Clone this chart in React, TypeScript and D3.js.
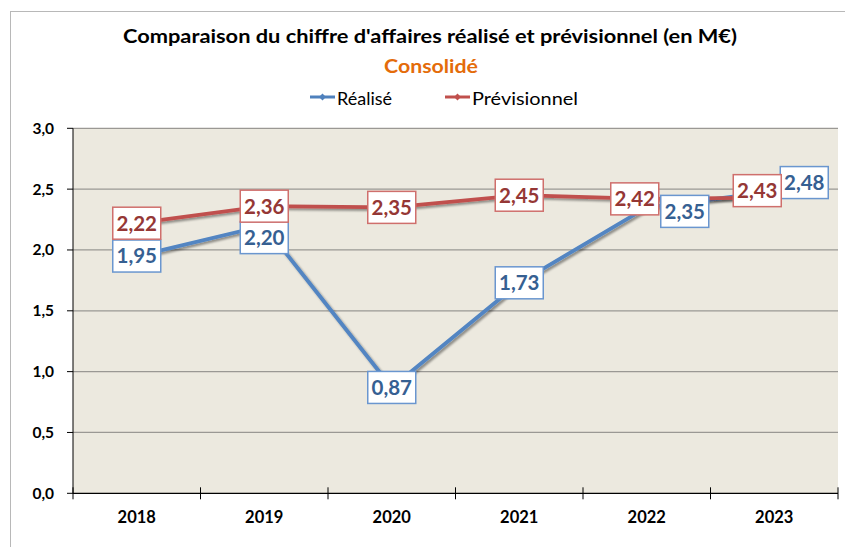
import * as d3 from 'd3';
import React, { useRef, useEffect } from 'react';

const years = ['2018', '2019', '2020', '2021', '2022', '2023'];
const realise = [1.95, 2.2, 0.87, 1.73, 2.35, 2.48];
const previsionnel = [2.22, 2.36, 2.35, 2.45, 2.42, 2.43];
const yTicks = [0, 0.5, 1, 1.5, 2, 2.5, 3];

// labels moved by hand in the original to avoid overlaps
const realiseShift = [[0, 0], [0, 12], [0, 0], [0, 0], [38, 4], [30, -9]];
const previsionnelShift = [[0, 0], [0, 0], [0, 0], [0, 0], [-12, 0], [-17, -7]];

const W = 845, H = 547;
const FONT = 'Lato, "Open Sans", sans-serif';

function App() {
    const ref = useRef(null);

    useEffect(() => {
        draw();
    }, []);

    const draw = () => {
        const svg = d3.select(ref.current);
        svg.selectAll('*').remove();

        const fr = d3.formatLocale({ decimal: ',', thousands: ' ', grouping: [3], currency: ['', '€'] });
        const f1 = fr.format('.1f'), f2 = fr.format('.2f');

        const margin = { top: 128.3, right: 7, bottom: 53.7, left: 73 };
        const x = d3.scaleBand().domain(years).range([margin.left, W - margin.right]).padding(0);
        const y = d3.scaleLinear().domain([0, 3]).range([H - margin.bottom, margin.top]);
        const cx = (d) => x(d) + x.bandwidth() / 2;

        const defs = svg.append('defs');
        const flt = defs.append('filter').attr('id', 'shd').attr('x', '-10%').attr('y', '-10%').attr('width', '130%').attr('height', '130%');
        flt.append('feDropShadow').attr('dx', 2).attr('dy', 2).attr('stdDeviation', 1.3)
            .attr('flood-color', '#000').attr('flood-opacity', 0.4);

        svg.append('rect').attr('width', W).attr('height', H).attr('fill', '#fff');
        // outer frame
        svg.append('rect').attr('x', 10.5).attr('y', 11.5).attr('width', W).attr('height', H)
            .attr('fill', 'none').attr('stroke', '#b8b8b8').attr('stroke-width', 1);

        // titles
        svg.append('text').attr('x', 123).attr('y', 43)
            .attr('textLength', 614).attr('lengthAdjust', 'spacingAndGlyphs')
            .style('font-family', FONT).style('font-weight', 700).style('font-size', '19.5px').attr('fill', '#000')
            .text("Comparaison du chiffre d'affaires réalisé et prévisionnel (en M€)");
        svg.append('text').attr('x', 384).attr('y', 73)
            .attr('textLength', 94).attr('lengthAdjust', 'spacingAndGlyphs')
            .style('font-family', FONT).style('font-weight', 700).style('font-size', '18.5px').attr('fill', '#E46C0A')
            .text('Consolidé');

        // legend
        const legend = [
            { name: 'Réalisé', color: '#4F81BD', x: 310, w: 55 },
            { name: 'Prévisionnel', color: '#C0504D', x: 445, w: 106 },
        ];
        legend.forEach((l) => {
            svg.append('line').attr('x1', l.x).attr('x2', l.x + 25).attr('y1', 97).attr('y2', 97)
                .attr('stroke', l.color).attr('stroke-width', 3);
            svg.append('path').attr('d', d3.symbol(d3.symbolDiamond2, 30)()).attr('transform', `translate(${l.x + 12.5},97)`)
                .attr('fill', l.color);
            svg.append('text').attr('x', l.x + 27).attr('y', 105)
                .attr('textLength', l.w).attr('lengthAdjust', 'spacingAndGlyphs')
                .style('font-family', FONT).style('font-size', '17px').attr('fill', '#000').text(l.name);
        });

        // plot area
        svg.append('rect').attr('x', margin.left).attr('y', margin.top)
            .attr('width', W - margin.right - margin.left).attr('height', y(0) - margin.top).attr('fill', '#ECE9DF');

        const g = svg.append('g');
        g.selectAll('.grid').data(yTicks.filter((t) => t > 0)).enter().append('line')
            .attr('x1', margin.left).attr('x2', W - margin.right)
            .attr('y1', (d) => y(d)).attr('y2', (d) => y(d))
            .attr('stroke', '#9a9894').attr('stroke-width', 1.3);

        // y axis
        g.append('line').attr('x1', margin.left).attr('x2', margin.left).attr('y1', y(3)).attr('y2', y(0))
            .attr('stroke', '#000').attr('stroke-width', 1);
        g.selectAll('.ytick').data(yTicks).enter().append('line')
            .attr('x1', margin.left - 6).attr('x2', margin.left).attr('y1', (d) => y(d)).attr('y2', (d) => y(d))
            .attr('stroke', '#000');
        g.selectAll('.ylab').data(yTicks).enter().append('text')
            .attr('x', 54).attr('y', (d) => y(d) + 5.5).attr('text-anchor', 'end')
            .style('font-family', FONT).style('font-weight', 700).style('font-size', '15.5px').attr('fill', '#000')
            .text((d) => f1(d));

        // x axis
        g.append('line').attr('x1', margin.left).attr('x2', W - margin.right).attr('y1', y(0)).attr('y2', y(0))
            .attr('stroke', '#000').attr('stroke-width', 1.2);
        const bounds = years.map((d) => x(d)).concat([W - margin.right]);
        g.selectAll('.xtick').data(bounds).enter().append('line')
            .attr('x1', (d) => d).attr('x2', (d) => d).attr('y1', y(0) - 6).attr('y2', y(0) + 6)
            .attr('stroke', '#000');
        g.selectAll('.xlab').data(years).enter().append('text')
            .attr('x', (d) => cx(d)).attr('y', 523).attr('text-anchor', 'middle')
            .style('font-family', FONT).style('font-weight', 700).style('font-size', '16.5px').attr('fill', '#000')
            .text((d) => d);

        const line = d3.line().x((d) => cx(d[0])).y((d) => y(d[1]));
        const series = [
            { values: realise, color: '#5285C2', shift: realiseShift, border: '#6A96CF', text: '#366092' },
            { values: previsionnel, color: '#C0504D', shift: previsionnelShift, border: '#CF6F6C', text: '#953735' },
        ];
        series.forEach((s) => {
            g.append('path').datum(years.map((yr, i) => [yr, s.values[i]]))
                .attr('d', line).attr('fill', 'none').attr('stroke', s.color).attr('stroke-width', 3.8)
                .attr('stroke-linejoin', 'round').attr('filter', 'url(#shd)');
        });

        series.forEach((s) => {
            const lab = g.selectAll(null).data(s.values).enter().append('g')
                .attr('transform', (d, i) => `translate(${cx(years[i]) + s.shift[i][0]},${y(d) + s.shift[i][1]})`);
            lab.append('rect').attr('x', -24).attr('y', -16).attr('width', 48).attr('height', 32)
                .attr('fill', '#fff').attr('stroke', s.border).attr('stroke-width', 1.5);
            lab.append('text').attr('y', 7.4).attr('text-anchor', 'middle')
                .style('font-family', FONT).style('font-weight', 700).style('font-size', '20.5px').attr('fill', s.text)
                .text((d) => f2(d));
        });
    };

    return (
        <svg ref={ref} width={W} height={H} style={{ position: 'absolute', left: 0, top: 0 }}></svg>
    );
}

export default App;
